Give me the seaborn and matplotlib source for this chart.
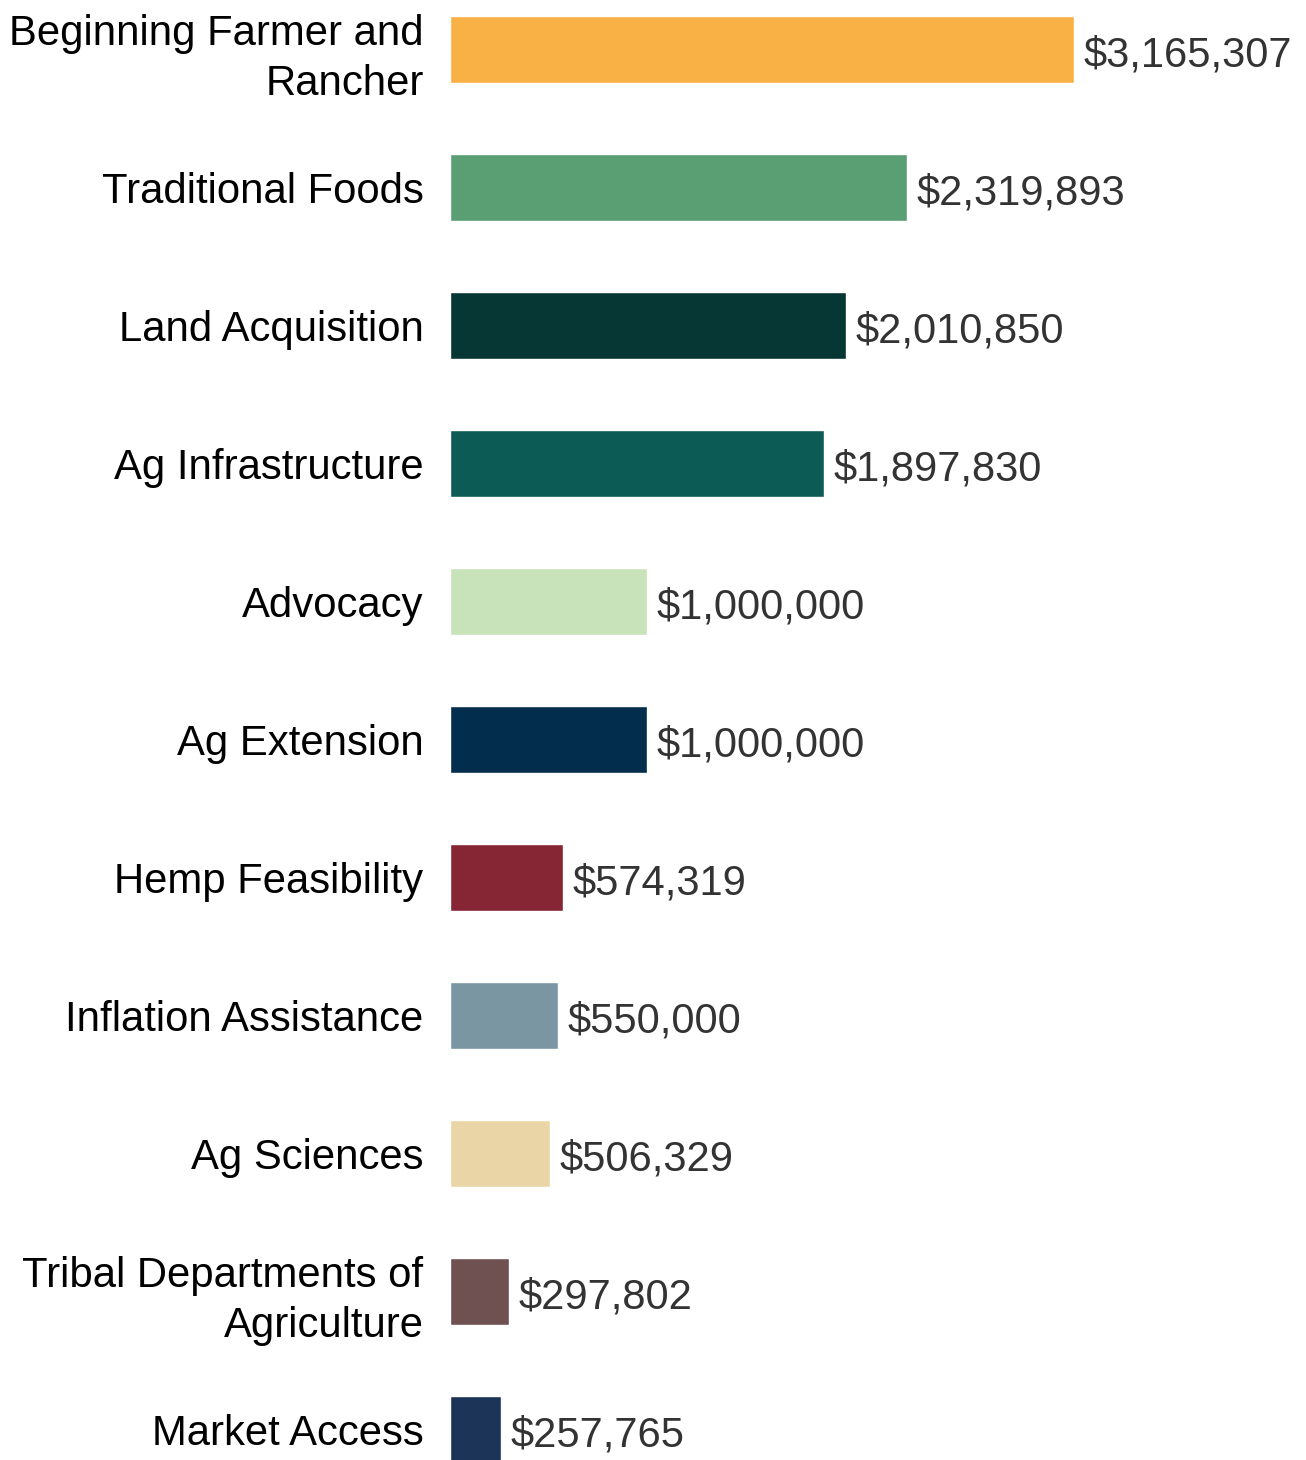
import matplotlib
matplotlib.use("Agg")
import seaborn as sns
import matplotlib.pyplot as plt

categories = ["Beginning Farmer and\nRancher", "Traditional Foods", "Land Acquisition",
              "Ag Infrastructure", "Advocacy", "Ag Extension", "Hemp Feasibility",
              "Inflation Assistance", "Ag Sciences", "Tribal Departments of\nAgriculture",
              "Market Access"]
amounts = [3165307, 2319893, 2010850, 1897830, 1000000, 1000000,
           574319, 550000, 506329, 297802, 257765]
colors = ["#F9B044", "#5A9E74", "#073735", "#0C5B55", "#C8E2B9", "#022D4C",
          "#862634", "#7A96A3", "#EAD5A6", "#6E5150", "#1D3459"]

sns.set_style("white")
plt.rcParams["font.family"] = ["Liberation Sans", "DejaVu Sans"]

fig = plt.figure(figsize=(13.06, 14.6), dpi=100)
ax = fig.add_axes([450 / 1306, 0, 856 / 1306, 1])

sns.barplot(x=amounts, y=categories, hue=categories, palette=colors,
            legend=False, orient="h", width=0.48, saturation=1, ax=ax)

ax.set_xlim(0, max(amounts) * 856 / 624)
ax.set_ylim(10.221, -0.3587)

for i, v in enumerate(amounts):
    ax.text(v + max(amounts) * 0.015, i + 0.01, f"${v:,}", va="center_baseline",
            ha="left", fontsize=30, color="#333333")

ax.tick_params(axis="y", length=0, pad=19, labelsize=30.2, labelcolor="black")
for lbl in ax.get_yticklabels():
    lbl.set_horizontalalignment("right")
    lbl.set_multialignment("right")
    lbl.set_linespacing(1.33)
ax.set_xticks([])
ax.set_xlabel("")
ax.set_ylabel("")
sns.despine(ax=ax, left=True, bottom=True)

fig.savefig("out.png", dpi=100)
